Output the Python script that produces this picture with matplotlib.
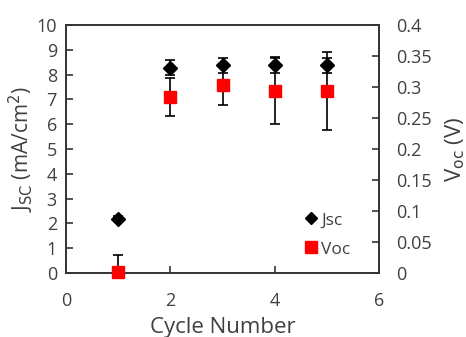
import matplotlib
matplotlib.use("Agg")
import matplotlib.pyplot as plt
from matplotlib.lines import Line2D

cycles = [1, 2, 3, 4, 5]
jsc = [2.18, 8.28, 8.37, 8.37, 8.37]
jsc_err = [0.1, 0.3, 0.3, 0.3, 0.3]
voc = [0.002, 0.284, 0.303, 0.294, 0.294]
voc_err = [0.027, 0.03, 0.032, 0.054, 0.063]

plt.rcParams['font.family'] = ['Open Sans', 'DejaVu Sans']
TXT = '#404040'
fig = plt.figure(figsize=(4.66, 3.37), dpi=100)
ax = fig.add_axes([66/466, 1-273/337, (379-66)/466, (273-25)/337])
ax2 = ax.twinx()

ax.errorbar(cycles, jsc, yerr=jsc_err, fmt='none', ecolor='black',
            elinewidth=1.2, capsize=3.6, capthick=1.2, zorder=2)
ax.plot(cycles, jsc, 'D', color='black', ms=7, zorder=3)
ax2.errorbar(cycles, voc, yerr=voc_err, fmt='none', ecolor='black',
             elinewidth=1.2, capsize=3.6, capthick=1.2, zorder=2)
ax2.plot(cycles, voc, 's', color='red', ms=9, zorder=3, clip_on=False)

ax.set_xlim(0, 6)
ax.set_ylim(0, 10)
ax2.set_ylim(0, 0.4)
ax.set_xticks([0, 2, 4, 6])
ax.set_yticks(range(0, 11))
ax2.set_yticks([0, 0.05, 0.1, 0.15, 0.2, 0.25, 0.3, 0.35, 0.4])
ax2.set_yticklabels(['0', '0.05', '0.1', '0.15', '0.2', '0.25', '0.3', '0.35', '0.4'])

for a in (ax, ax2):
    a.tick_params(direction='in', length=5, width=1.2, labelsize=13, colors='#333333', labelcolor=TXT)
    for s in a.spines.values():
        s.set_linewidth(1.2)
        s.set_color('#333333')
ax.tick_params(axis='x', pad=14)
ax.tick_params(axis='y', pad=6.5)
ax2.tick_params(axis='y', pad=12)

ax.set_xlabel('Cycle Number', fontsize=16, color=TXT, labelpad=5)
ax.set_ylabel(r'J$_{\mathrm{SC}}$ (mA/cm$^2$)', fontsize=15, color=TXT, labelpad=0)
ax2.set_ylabel(r'V$_{\mathrm{oc}}$ (V)', fontsize=16, color=TXT, labelpad=9)

handles = [Line2D([], [], marker='D', color='black', ls='none', ms=6),
           Line2D([], [], marker='s', color='red', ls='none', ms=9)]
ax2.legend(handles, ['Jsc', 'Voc'], loc='upper left', bbox_to_anchor=(0.755, 0.245),
           frameon=False, fontsize=12.5, handletextpad=0.1, handlelength=1.0,
           labelspacing=0.75, borderpad=0, borderaxespad=0, labelcolor=TXT)

fig.savefig('out.png', dpi=100)
